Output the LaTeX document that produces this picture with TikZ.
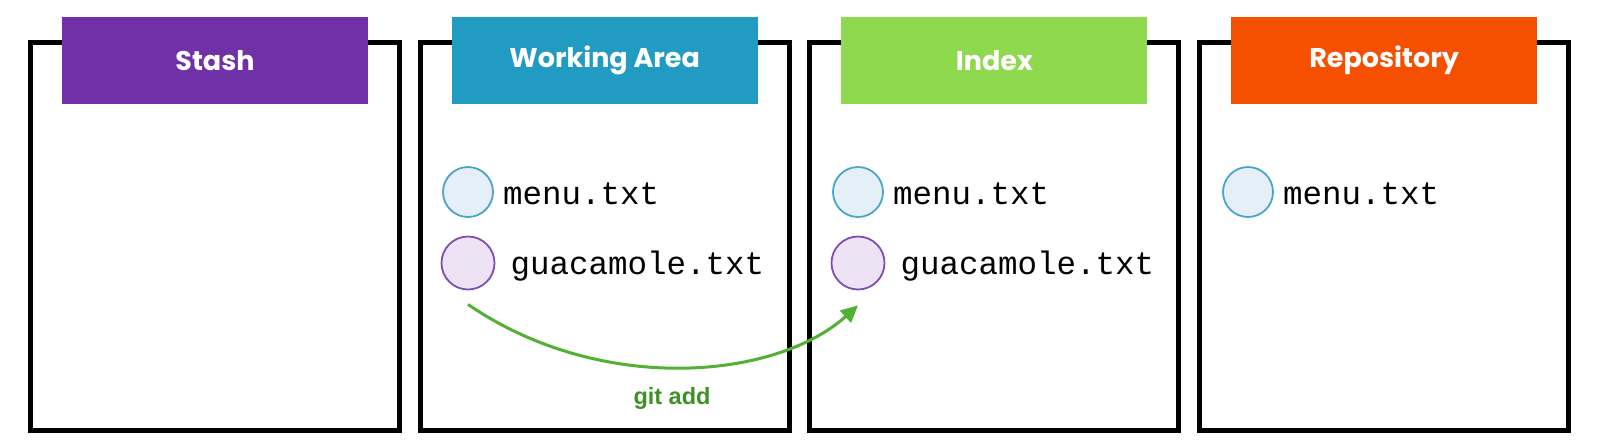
\documentclass[tikz,border=0pt]{standalone}
\usepackage{fontspec}
\setmainfont{Liberation Sans}
\newfontfamily\headfont{Poppins}
\newfontfamily\filefont{Liberation Mono}
\usetikzlibrary{positioning,arrows.meta}
\definecolor{stashpurple}{HTML}{7030A8}
\definecolor{workblue}{HTML}{229BC3}
\definecolor{indexgreen}{HTML}{8FD94F}
\definecolor{repoorange}{HTML}{F55000}
\definecolor{dotblue}{HTML}{47A7C7}
\definecolor{dotbluefill}{HTML}{E5EFF8}
\definecolor{dotpurple}{HTML}{7D4FB0}
\definecolor{dotpurplefill}{HTML}{EEE3F5}
\definecolor{addgreen}{HTML}{52B034}
\definecolor{addtext}{HTML}{3E9127}

\begin{document}
\begin{tikzpicture}[x=1pt,y=-1pt,
  frame/.style={draw,line width=5pt,minimum width=369pt,minimum height=388pt,inner sep=0pt},
  header/.style={minimum width=306pt,minimum height=87pt,inner sep=0pt,text=white,
    font=\headfont\bfseries\fontsize{27}{31}\selectfont},
  bluedot/.style={circle,draw=dotblue,fill=dotbluefill,line width=1.8pt,minimum size=50pt,inner sep=0pt},
  purpledot/.style={circle,draw=dotpurple,fill=dotpurplefill,line width=1.8pt,minimum size=53pt,inner sep=0pt},
  filename/.style={anchor=base west,inner sep=0pt,font=\filefont\fontsize{32.5}{38}\selectfont}]
\fill[white] (0,0) rectangle (1600,445);
\useasboundingbox (0,0) rectangle (1600,445);
\foreach \name/\title/\col [count=\i from 0] in
  {stash/Stash/stashpurple, work/Working Area/workblue, index/Index/indexgreen, repo/Repository/repoorange}
{
  \node[frame] (\name) at (215+389.7*\i,236.5) {};
  \node[header,fill=\col] (\name head) at (215+389.7*\i,60.5) {\title};
}
% files
\node[bluedot] (workmenu) at (468,192) {};
\node[purpledot] (workguac) at (468,263) {};
\node[bluedot] (indexmenu) at (858,192) {};
\node[purpledot] (indexguac) at (858,263) {};
\node[bluedot] (repomenu) at (1248,192) {};
\node[filename] (workmenutxt) at ([xshift=9pt,yshift=-12pt]workmenu.east) {menu.txt};
\node[filename] (workguactxt) at ([xshift=15pt,yshift=-11pt]workguac.east) {guacamole.txt};
\node[filename] (indexmenutxt) at ([xshift=9pt,yshift=-12pt]indexmenu.east) {menu.txt};
\node[filename] (indexguactxt) at ([xshift=15pt,yshift=-11pt]indexguac.east) {guacamole.txt};
\node[filename] (repomenutxt) at ([xshift=9pt,yshift=-12pt]repomenu.east) {menu.txt};
% git add
\coordinate (addfrom) at ([yshift=-14pt]workguac.south);
\coordinate (addto) at ([yshift=-15pt]indexguac.south);
\draw[addgreen,line width=3pt,-{Triangle[length=17pt,width=16pt]}]
  (addfrom) .. controls (600,395) and (775,380) .. (addto);
\node[text=addtext,font=\bfseries\fontsize{23.5}{28}\selectfont] (gitadd) at (672,398) {git add};
\end{tikzpicture}
\end{document}
